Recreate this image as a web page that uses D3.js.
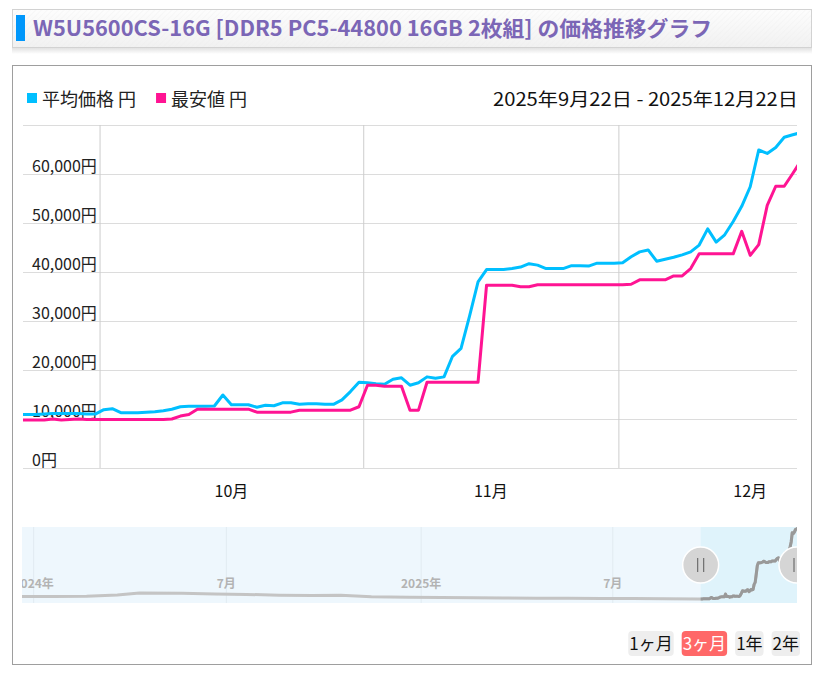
<!DOCTYPE html>
<html lang="ja">
<head>
<meta charset="UTF-8">
<title>価格推移グラフ</title>
<script src="https://d3js.org/d3.v7.min.js"></script>
<style>
    body { margin: 0; background: #fff; }
    svg text { font-family: "Noto Sans CJK JP", "Noto Sans", sans-serif; }
    .hgrid line { stroke: #dcdcdc; }
    .vgrid line { stroke: #cdcdcd; }
</style>
</head>
<body>
<svg id="canvas" width="821" height="674"></svg>
<script>
    // ---- data ----
    const titleText = 'W5U5600CS-16G [DDR5 PC5-44800 16GB 2枚組] の価格推移グラフ';
    const seriesNames = ['平均価格 円', '最安値 円'];
    const seriesColors = ['#00bfff', '#ff1493'];
    const rangeText = '2025年9月22日 - 2025年12月22日';
    const firstDay = '2025-09-21';   // one point per day from here
    const avgPrice = [
        10900, 10900, 10900, 11000, 11100, 11100, 11100, 11100, 11000, 11000,
        11900, 12100, 11300, 11300, 11300, 11400, 11500, 11700, 12000, 12500,
        12600, 12600, 12600, 12650, 14900, 12900, 12900, 12900, 12400, 12800,
        12700, 13300, 13300, 13000, 13100, 13100, 13000, 13000, 13900, 15600,
        17500, 17400, 17200, 17100, 18100, 18400, 16900, 17400, 18600, 18300,
        18600, 22800, 24400, 31000, 38000, 40500, 40500, 40500, 40700, 41000,
        41700, 41400, 40700, 40700, 40700, 41300, 41300, 41200, 41800, 41800,
        41800, 41900, 43100, 44100, 44500, 42200, 42600, 43000, 43500, 44100,
        45500, 48800, 46100, 47600, 50300, 53400, 57400, 64900, 64200, 65400,
        67500, 68000, 68500
    ];
    const minPrice = [
        9800, 9800, 9800, 9800, 10000, 9800, 9900, 10000, 9900, 9900,
        9900, 9900, 9900, 9900, 9900, 9900, 9900, 9900, 10000, 10600,
        10900, 12000, 12000, 12000, 12000, 12000, 12000, 12000, 11400, 11400,
        11400, 11400, 11400, 11800, 11800, 11800, 11800, 11800, 11800, 11800,
        12500, 16900, 16900, 16700, 16700, 16700, 11800, 11800, 17500, 17500,
        17500, 17500, 17500, 17500, 17500, 37300, 37300, 37300, 37300, 37000,
        37000, 37400, 37400, 37400, 37400, 37400, 37400, 37400, 37400, 37400,
        37400, 37400, 37500, 38400, 38400, 38400, 38400, 39200, 39200, 40700,
        43700, 43700, 43700, 43700, 43700, 48300, 43400, 45600, 53600, 57500,
        57500, 60100, 62800
    ];
    const yTicks = [0, 10000, 20000, 30000, 40000, 50000, 60000, 70000];

    // navigator: older monthly average prices, then the daily series above
    const navDates = [
        '2023-12-21', '2024-01-20', '2024-02-20', '2024-03-20', '2024-04-10', '2024-05-20',
        '2024-06-20', '2024-07-20', '2024-08-20', '2024-09-20', '2024-10-17', '2024-11-15',
        '2024-12-20', '2025-01-20', '2025-02-20', '2025-03-20', '2025-04-20', '2025-05-20',
        '2025-06-20', '2025-07-20', '2025-08-20', '2025-09-20'
    ];
    const navPrice = [
        12900, 12900, 13100, 14200, 15700, 15600,
        15000, 14600, 13900, 13700, 14000, 12700,
        12200, 12000, 11800, 11600, 11500, 11400,
        11300, 11200, 11000, 10900
    ];
    const navStart = '2023-12-21';
    const rangeStart = '2025-09-22';
    const rangeEnd = '2025-12-22';
    const buttons = ['1ヶ月', '3ヶ月', '1年', '2年'];
    const activeButton = '3ヶ月';

    // ---- layout ----
    const svg = d3.select('#canvas');
    const parse = d3.timeParse('%Y-%m-%d');
    const plot = {left: 23, right: 797, top: 125, bottom: 468};
    const nav = {left: 22, right: 797, top: 527, bottom: 603};

    const days = avgPrice.map((v, i) => d3.timeHour.offset(d3.timeDay.offset(parse(firstDay), i), 12));
    const avgData = days.map((d, i) => ({date: d, value: avgPrice[i]}));
    const minData = days.map((d, i) => ({date: d, value: minPrice[i]}));

    const defs = svg.append('defs');

    // ---- title box ----
    const tg = defs.append('linearGradient').attr('id', 'titleBg').attr('x1', 0).attr('x2', 0).attr('y1', 0).attr('y2', 1);
    tg.append('stop').attr('offset', '0%').attr('stop-color', '#fdfdfd');
    tg.append('stop').attr('offset', '100%').attr('stop-color', '#f1f1f1');
    const sg = defs.append('linearGradient').attr('id', 'titleShadow').attr('x1', 0).attr('x2', 0).attr('y1', 0).attr('y2', 1);
    sg.append('stop').attr('offset', '0%').attr('stop-color', '#e2e2e2');
    sg.append('stop').attr('offset', '100%').attr('stop-color', '#ffffff');
    const stripes = defs.append('pattern').attr('id', 'stripes').attr('width', 4).attr('height', 4)
        .attr('patternUnits', 'userSpaceOnUse').attr('patternTransform', 'rotate(45)');
    stripes.append('line').attr('x1', 0).attr('y1', 0).attr('x2', 0).attr('y2', 4)
        .attr('stroke', '#ececec').attr('stroke-width', 1);

    svg.append('rect').attr('x', 12).attr('y', 48).attr('width', 800).attr('height', 6).attr('fill', 'url(#titleShadow)');
    svg.append('rect').attr('x', 12.5).attr('y', 9.5).attr('width', 799).attr('height', 38)
        .attr('fill', 'url(#titleBg)').attr('stroke', '#d2d2d2');
    svg.append('rect').attr('x', 13).attr('y', 10).attr('width', 798).attr('height', 37)
        .attr('fill', 'url(#stripes)').attr('opacity', 0.6);
    svg.append('rect').attr('x', 16).attr('y', 15).attr('width', 9).attr('height', 26).attr('fill', '#0097fb');
    const title = svg.append('text').attr('x', 33).attr('y', 36)
        .attr('font-size', 21).attr('font-weight', 'bold').attr('fill', '#7b66b6')
        .text(titleText);
    title.attr('textLength', 679).attr('lengthAdjust', 'spacingAndGlyphs');

    // ---- chart frame ----
    svg.append('rect').attr('x', 12.5).attr('y', 65.5).attr('width', 799).attr('height', 599)
        .attr('fill', '#fff').attr('stroke', '#9e9e9e');

    // ---- legend ----
    const legend = svg.append('g');
    let lx = 27;
    seriesNames.forEach((name, i) => {
        legend.append('rect').attr('x', lx).attr('y', 93).attr('width', 10).attr('height', 10).attr('fill', seriesColors[i]);
        const t = legend.append('text').attr('x', lx + 15).attr('y', 106).attr('font-size', 18).attr('fill', '#222').text(name);
        lx += 15 + t.node().getComputedTextLength() + 20;
    });
    svg.append('text').attr('x', 798).attr('y', 106).attr('text-anchor', 'end')
        .attr('font-size', 18).attr('fill', '#111').text(rangeText)
        .attr('textLength', 305).attr('lengthAdjust', 'spacingAndGlyphs');

    // ---- scales ----
    const x = d3.scaleTime().domain([parse(rangeStart), parse(rangeEnd)]).range([plot.left, plot.right]);
    const y = d3.scaleLinear().domain([0, 70000]).range([plot.bottom, plot.top]);

    // horizontal grid + y labels
    const yAxis = svg.append('g').attr('class', 'hgrid').attr('transform', `translate(${plot.left},0)`)
        .call(d3.axisRight(y).tickValues(yTicks).tickSize(plot.right - plot.left)
            .tickFormat(d => d === 70000 ? '' : d3.format(',')(d) + '円'));
    yAxis.select('.domain').remove();
    yAxis.selectAll('text').attr('x', 9).attr('dy', -3).attr('text-anchor', 'start')
        .attr('font-size', 16).attr('fill', '#222').style('font-family', '"Noto Sans CJK JP", sans-serif');
    yAxis.selectAll('.tick text').attr('y', 0).attr('dominant-baseline', 'auto');

    // vertical grid on month starts
    const months = d3.timeMonth.range(d3.timeMonth.ceil(parse(rangeStart)), parse(rangeEnd));
    const xGrid = svg.append('g').attr('class', 'vgrid').attr('transform', `translate(0,${plot.bottom})`)
        .call(d3.axisBottom(x).tickValues(months).tickSize(-(plot.bottom - plot.top)).tickFormat(''));
    xGrid.select('.domain').remove();

    // month labels centred in each month
    d3.timeMonth.range(d3.timeMonth.floor(parse(rangeStart)), parse(rangeEnd)).slice(1).forEach(m => {
        const mid = (x(m) + x(d3.timeMonth.offset(m, 1))) / 2;
        svg.append('text').attr('x', mid).attr('y', 497).attr('text-anchor', 'middle')
            .attr('font-size', 16).attr('fill', '#111').text((m.getMonth() + 1) + '月');
    });

    // ---- lines ----
    defs.append('clipPath').attr('id', 'plotClip').append('rect')
        .attr('x', plot.left).attr('y', plot.top - 10).attr('width', plot.right - plot.left).attr('height', plot.bottom - plot.top + 12);
    const line = d3.line().x(d => x(d.date)).y(d => y(d.value));
    const lines = svg.append('g').attr('clip-path', 'url(#plotClip)');
    lines.append('path').datum(avgData).attr('d', line).attr('fill', 'none')
        .attr('stroke', seriesColors[0]).attr('stroke-width', 3).attr('stroke-linejoin', 'round');
    lines.append('path').datum(minData).attr('d', line).attr('fill', 'none')
        .attr('stroke', seriesColors[1]).attr('stroke-width', 3).attr('stroke-linejoin', 'round');

    // ---- navigator ----
    const navData = navDates.map((d, i) => ({date: parse(d), value: navPrice[i]})).concat(avgData);
    const nx = d3.scaleTime().domain([parse(navStart), parse(rangeEnd)]).range([nav.left, nav.right]);
    const ny = d3.scaleLinear().domain([7600, 69600]).range([nav.bottom, nav.top]);

    defs.append('clipPath').attr('id', 'navClip').append('rect')
        .attr('x', nav.left).attr('y', nav.top).attr('width', nav.right - nav.left).attr('height', nav.bottom - nav.top);
    defs.append('clipPath').attr('id', 'selClip').append('rect')
        .attr('x', nx(parse(rangeStart))).attr('y', nav.top).attr('width', nav.right - nx(parse(rangeStart))).attr('height', nav.bottom - nav.top);
    defs.append('clipPath').attr('id', 'handleClip').append('rect')
        .attr('x', 0).attr('y', nav.top - 20).attr('width', nav.right).attr('height', 120);

    const ng = svg.append('g').attr('clip-path', 'url(#navClip)');
    ng.append('rect').attr('x', nav.left).attr('y', nav.top).attr('width', nav.right - nav.left)
        .attr('height', nav.bottom - nav.top).attr('fill', '#eef7fd');
    ng.append('rect').attr('x', nx(parse(rangeStart))).attr('y', nav.top)
        .attr('width', nav.right - nx(parse(rangeStart))).attr('height', nav.bottom - nav.top).attr('fill', '#dff3fb');

    const navTicks = d3.timeMonth.every(6).range(parse(navStart), parse(rangeEnd));
    navTicks.forEach(t => {
        ng.append('line').attr('x1', nx(t)).attr('x2', nx(t)).attr('y1', nav.top).attr('y2', nav.bottom)
            .attr('stroke', '#e1ebf1');
        ng.append('text').attr('x', nx(t)).attr('y', 588).attr('text-anchor', 'middle')
            .attr('font-size', 12).attr('font-weight', 'bold').attr('fill', '#b3b3b3')
            .text(t.getMonth() === 0 ? t.getFullYear() + '年' : (t.getMonth() + 1) + '月');
    });

    const navLine = d3.line().x(d => nx(d.date)).y(d => ny(d.value));
    ng.append('path').datum(navData).attr('d', navLine).attr('fill', 'none')
        .attr('stroke', '#c4c4c4').attr('stroke-width', 3).attr('stroke-linejoin', 'round');
    ng.append('path').datum(navData).attr('d', navLine).attr('fill', 'none').attr('clip-path', 'url(#selClip)')
        .attr('stroke', '#999999').attr('stroke-width', 3).attr('stroke-linejoin', 'round');

    const hg = svg.append('g').attr('clip-path', 'url(#handleClip)');
    [parse(rangeStart), parse(rangeEnd)].forEach(d => {
        const cx = nx(d), cy = 565;
        hg.append('circle').attr('cx', cx).attr('cy', cy).attr('r', 18)
            .attr('fill', '#d5d5d5').attr('stroke', '#fff').attr('stroke-width', 1.5);
        [-3, 3].forEach(o => {
            hg.append('line').attr('x1', cx + o).attr('x2', cx + o).attr('y1', cy - 7).attr('y2', cy + 7)
                .attr('stroke', '#6e6e6e').attr('stroke-width', 1.2);
        });
    });

    // ---- range buttons ----
    const bg = svg.append('g');
    const widths = buttons.map(b => {
        const t = bg.append('text').attr('font-size', 17).text(b);
        const w = t.node().getComputedTextLength();
        t.remove();
        return w + 2;
    });
    let bx = 800 - d3.sum(widths) - 8 * (buttons.length - 1);
    buttons.forEach((b, i) => {
        const on = b === activeButton;
        bg.append('rect').attr('x', bx).attr('y', 631).attr('width', widths[i]).attr('height', 25).attr('rx', 4)
            .attr('fill', on ? '#ff6868' : '#eeeeee');
        bg.append('text').attr('x', bx + widths[i] / 2).attr('y', 650).attr('text-anchor', 'middle')
            .attr('font-size', 17).attr('fill', on ? '#fff' : '#111').text(b);
        bx += widths[i] + 8;
    });
</script>
</body>
</html>
